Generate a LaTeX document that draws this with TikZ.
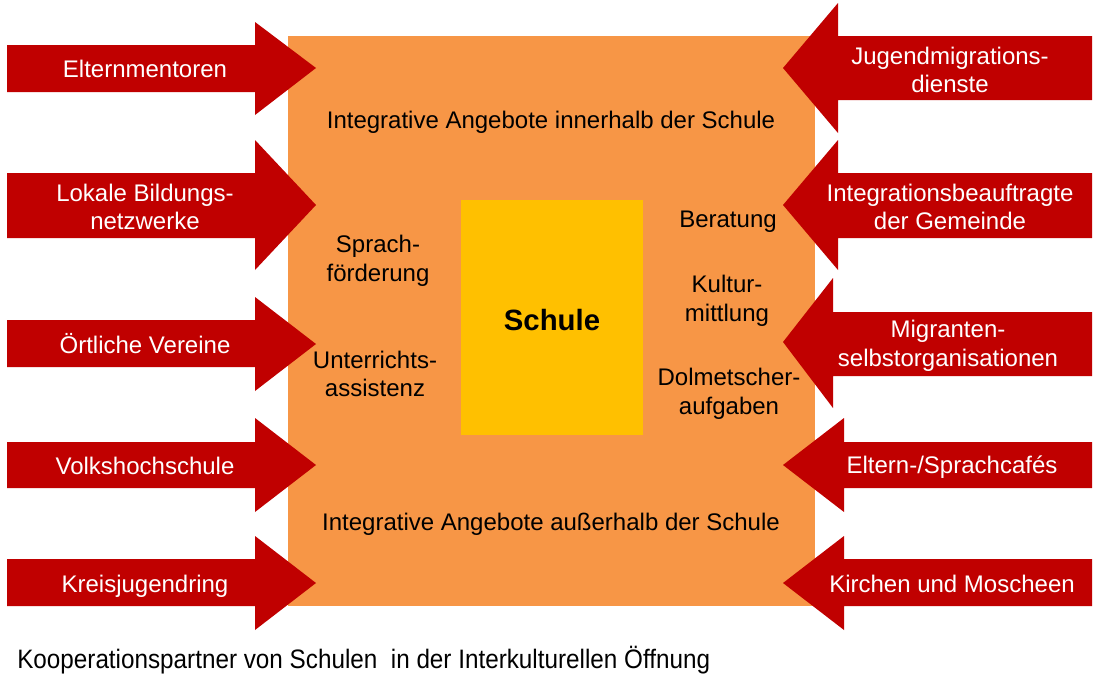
\documentclass[tikz,border=0pt]{standalone}
\usepackage{fontspec}
\setmainfont{Liberation Sans}
\newfontfamily\capfont[FakeStretch=0.91]{Liberation Sans}
\definecolor{arrred}{HTML}{C00000}
\definecolor{boxorange}{HTML}{F79646}
\definecolor{boxyellow}{HTML}{FFC000}
\tikzset{
  arr/.style={fill=arrred, draw=none},
  arrtext/.style={text=white, align=center, inner sep=0pt, font=\fontsize{18}{21.6}\selectfont},
  intext/.style={text=black, align=center, inner sep=0pt, font=\fontsize{18}{21.6}\selectfont},
}
\begin{document}
\begin{tikzpicture}[x=0.75pt, y=-0.75pt]
\useasboundingbox (0,0) rectangle (1100,682);
% main boxes
\fill[boxorange] (288,36) rectangle (815,606);
\fill[boxyellow] (461,200) rectangle (643,435);
\node[inner sep=0pt, font=\fontsize{22}{26}\selectfont\bfseries] (schule) at (552,320) {Schule};
% left arrows
\fill[arr] (7,45) -- (255,45) -- (255,22) -- (316,68) -- (255,115) -- (255,92) -- (7,92) -- cycle;
\fill[arr] (7,173) -- (255,173) -- (255,140) -- (316,205) -- (255,270) -- (255,238) -- (7,238) -- cycle;
\fill[arr] (7,320) -- (255,320) -- (255,297) -- (316,344) -- (255,391) -- (255,367) -- (7,367) -- cycle;
\fill[arr] (7,442) -- (255,442) -- (255,418) -- (316,465) -- (255,512) -- (255,488) -- (7,488) -- cycle;
\fill[arr] (7,559) -- (255,559) -- (255,536) -- (316,583) -- (255,630) -- (255,606) -- (7,606) -- cycle;
% right arrows
\fill[arr] (1092,36) -- (838,36) -- (838,3) -- (783,68) -- (838,133) -- (838,100) -- (1092,100) -- cycle;
\fill[arr] (1092,173) -- (838,173) -- (838,140) -- (783,205) -- (838,270) -- (838,238) -- (1092,238) -- cycle;
\fill[arr] (1092,312) -- (833,312) -- (833,278) -- (783,342) -- (833,408) -- (833,376) -- (1092,376) -- cycle;
\fill[arr] (1092,442) -- (844,442) -- (844,418) -- (783,465) -- (844,512) -- (844,488) -- (1092,488) -- cycle;
\fill[arr] (1092,559) -- (844,559) -- (844,536) -- (783,583) -- (844,630) -- (844,606) -- (1092,606) -- cycle;
% arrow labels
\node[arrtext] (l1) at (145,69) {Elternmentoren};
\node[arrtext] (l2) at (145,207) {Lokale Bildungs-\\netzwerke};
\node[arrtext] (l3) at (145,344) {Örtliche Vereine};
\node[arrtext] (l4) at (145,466) {Volkshochschule};
\node[arrtext] (l5) at (145,586) {Kreisjugendring};
\node[arrtext] (r1) at (950,70) {Jugendmigrations-\\dienste};
\node[arrtext] (r2) at (950,207) {Integrationsbeauftragte\\der Gemeinde};
\node[arrtext] (r3) at (948,346) {Migranten-\\selbstorganisationen};
\node[arrtext] (r4) at (952,467) {Eltern-/Sprachcafés};
\node[arrtext] (r5) at (952,584) {Kirchen und Moscheen};
% inner labels
\node[intext] (inner) at (551,122) {Integrative Angebote innerhalb der Schule};
\node[intext] (outer) at (551,524) {Integrative Angebote außerhalb der Schule};
\node[intext] (sprach) at (378,261) {Sprach-\\förderung};
\node[intext] (unter) at (375,374) {Unterrichts-\\assistenz};
\node[intext] (berat) at (728,222) {Beratung};
\node[intext] (kultur) at (727,301) {Kultur-\\mittlung};
\node[intext] (dolm) at (729,394) {Dolmetscher-\\aufgaben};
% caption
\node[anchor=west, inner sep=0pt, font=\capfont\fontsize{20}{24}\selectfont] (caption) at (17,660)
  {Kooperationspartner von Schulen \ in der Interkulturellen Öffnung};
\end{tikzpicture}
\end{document}
